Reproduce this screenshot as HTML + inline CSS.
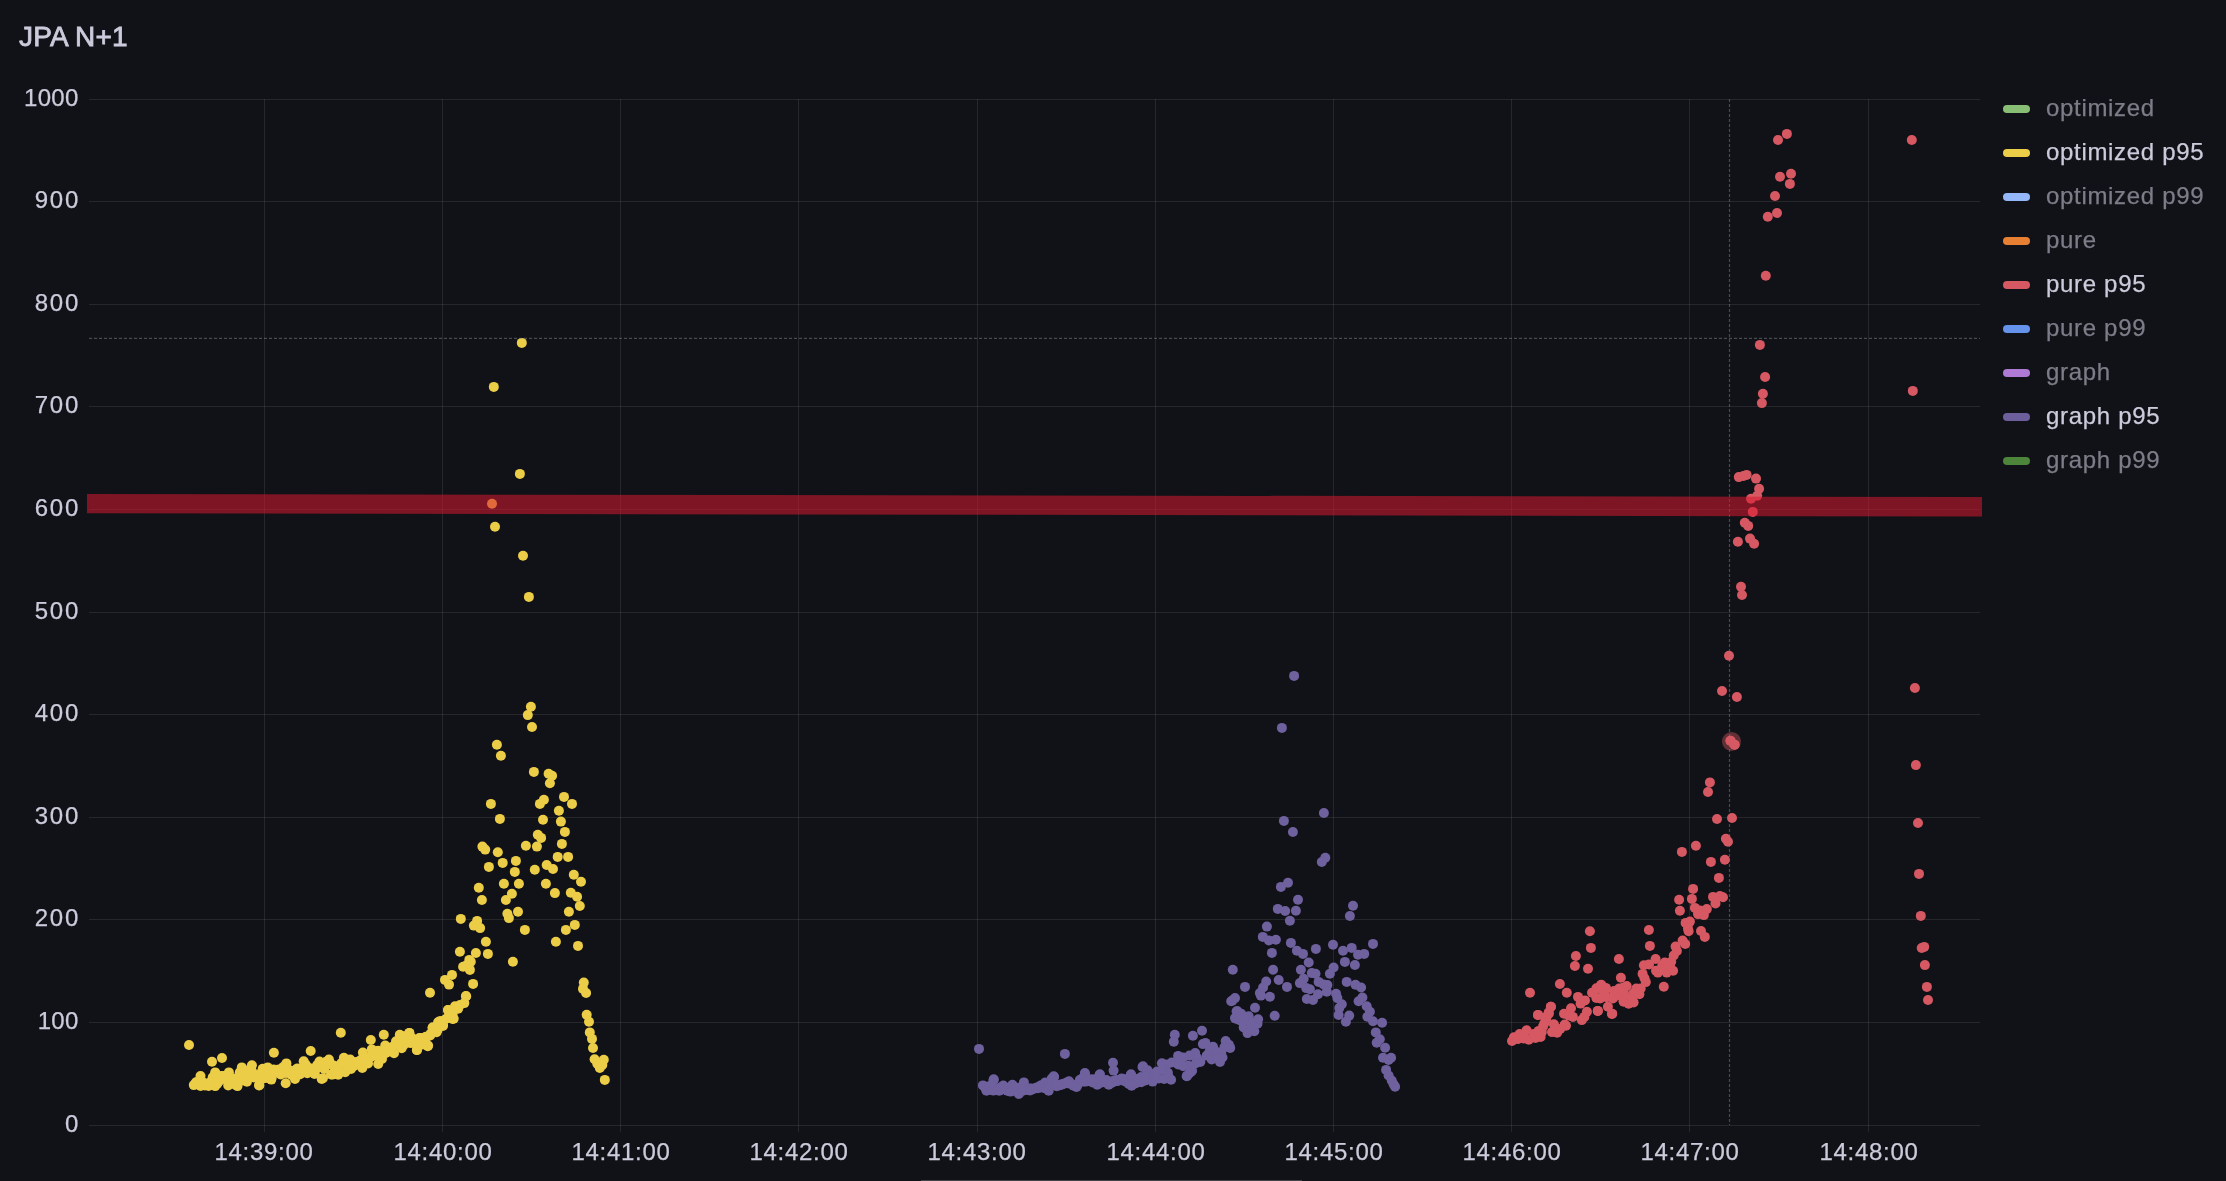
<!DOCTYPE html><html><head><meta charset="utf-8"><title>JPA N+1</title><style>

html,body{margin:0;padding:0;background:#111217;}
body{width:2226px;height:1181px;overflow:hidden;position:relative;font-family:"Liberation Sans",sans-serif;color:#ccccdc;}
.t{position:absolute;white-space:nowrap;line-height:1;opacity:0.999;will-change:transform;}
.title{left:18.5px;top:22.6px;font-size:28px;letter-spacing:0.15px;-webkit-text-stroke:0.8px #ccccdc;}
.yl{font-size:24px;text-align:right;width:78px;left:0;-webkit-text-stroke:0.25px #ccccdc;}
.xl{font-size:24px;text-align:center;width:140px;letter-spacing:0.7px;-webkit-text-stroke:0.25px #ccccdc;}
.lg{font-size:24px;left:2045.5px;letter-spacing:0.68px;-webkit-text-stroke:0.25px currentColor;}
.lg.off{color:#7d7e89;}
.mk{position:absolute;left:2002.9px;width:27.3px;height:8.5px;border-radius:4.25px;}
.sb{position:absolute;left:920.5px;top:1180px;width:381px;height:1px;background:#424349;}

</style></head><body>
<svg width="2226" height="1181" viewBox="0 0 2226 1181" style="position:absolute;left:0;top:0"><g fill="#f0faff" fill-opacity="0.09" shape-rendering="crispEdges"><rect x="89" y="1125" width="1891" height="1"/><rect x="89" y="1022" width="1891" height="1"/><rect x="89" y="919" width="1891" height="1"/><rect x="89" y="817" width="1891" height="1"/><rect x="89" y="714" width="1891" height="1"/><rect x="89" y="612" width="1891" height="1"/><rect x="89" y="509" width="1891" height="1"/><rect x="89" y="406" width="1891" height="1"/><rect x="89" y="304" width="1891" height="1"/><rect x="89" y="201" width="1891" height="1"/><rect x="89" y="99" width="1891" height="1"/><rect x="264" y="99" width="1" height="1033"/><rect x="442" y="99" width="1" height="1033"/><rect x="620" y="99" width="1" height="1033"/><rect x="798" y="99" width="1" height="1033"/><rect x="977" y="99" width="1" height="1033"/><rect x="1155" y="99" width="1" height="1033"/><rect x="1333" y="99" width="1" height="1033"/><rect x="1511" y="99" width="1" height="1033"/><rect x="1689" y="99" width="1" height="1033"/><rect x="1868" y="99" width="1" height="1033"/></g><g fill="#eccd47"><circle cx="189.0" cy="1045.0" r="5"/><circle cx="212.0" cy="1061.8" r="5"/><circle cx="222.0" cy="1058.0" r="5"/><circle cx="273.9" cy="1052.8" r="5"/><circle cx="310.7" cy="1051.0" r="5"/><circle cx="340.8" cy="1032.8" r="5"/><circle cx="370.8" cy="1040.0" r="5"/><circle cx="383.8" cy="1034.7" r="5"/><circle cx="430.0" cy="992.7" r="5"/><circle cx="200.5" cy="1076.0" r="5"/><circle cx="203.0" cy="1083.0" r="5"/><circle cx="209.0" cy="1083.0" r="5"/><circle cx="215.2" cy="1072.4" r="5"/><circle cx="221.7" cy="1076.0" r="5"/><circle cx="228.9" cy="1072.4" r="5"/><circle cx="234.6" cy="1079.0" r="5"/><circle cx="241.8" cy="1067.4" r="5"/><circle cx="251.9" cy="1065.2" r="5"/><circle cx="262.7" cy="1068.8" r="5"/><circle cx="267.7" cy="1067.4" r="5"/><circle cx="273.5" cy="1069.6" r="5"/><circle cx="286.4" cy="1063.4" r="5"/><circle cx="295.0" cy="1070.3" r="5"/><circle cx="303.7" cy="1061.3" r="5"/><circle cx="309.5" cy="1068.8" r="5"/><circle cx="319.5" cy="1061.6" r="5"/><circle cx="328.9" cy="1059.5" r="5"/><circle cx="336.0" cy="1066.7" r="5"/><circle cx="200.5" cy="1086.0" r="5"/><circle cx="215.2" cy="1086.1" r="5"/><circle cx="228.2" cy="1085.4" r="5"/><circle cx="237.5" cy="1086.1" r="5"/><circle cx="246.9" cy="1081.8" r="5"/><circle cx="254.0" cy="1077.5" r="5"/><circle cx="259.1" cy="1085.4" r="5"/><circle cx="271.3" cy="1079.6" r="5"/><circle cx="277.1" cy="1070.0" r="5"/><circle cx="285.7" cy="1083.2" r="5"/><circle cx="295.0" cy="1078.9" r="5"/><circle cx="307.3" cy="1073.2" r="5"/><circle cx="314.5" cy="1073.9" r="5"/><circle cx="321.7" cy="1078.9" r="5"/><circle cx="332.5" cy="1074.6" r="5"/><circle cx="193.8" cy="1085.1" r="5"/><circle cx="196.0" cy="1082.3" r="5"/><circle cx="197.7" cy="1082.1" r="5"/><circle cx="198.9" cy="1082.1" r="5"/><circle cx="200.7" cy="1080.6" r="5"/><circle cx="202.5" cy="1082.1" r="5"/><circle cx="204.8" cy="1085.5" r="5"/><circle cx="206.2" cy="1083.7" r="5"/><circle cx="208.6" cy="1085.9" r="5"/><circle cx="210.4" cy="1082.8" r="5"/><circle cx="212.7" cy="1077.2" r="5"/><circle cx="214.3" cy="1077.4" r="5"/><circle cx="215.3" cy="1074.1" r="5"/><circle cx="217.3" cy="1083.7" r="5"/><circle cx="219.0" cy="1081.1" r="5"/><circle cx="221.3" cy="1079.5" r="5"/><circle cx="223.0" cy="1076.0" r="5"/><circle cx="224.2" cy="1077.0" r="5"/><circle cx="226.8" cy="1078.6" r="5"/><circle cx="228.2" cy="1080.2" r="5"/><circle cx="230.1" cy="1077.4" r="5"/><circle cx="232.4" cy="1082.9" r="5"/><circle cx="233.5" cy="1082.4" r="5"/><circle cx="235.7" cy="1084.9" r="5"/><circle cx="237.7" cy="1077.4" r="5"/><circle cx="239.8" cy="1072.3" r="5"/><circle cx="241.0" cy="1080.7" r="5"/><circle cx="242.5" cy="1075.4" r="5"/><circle cx="244.1" cy="1077.7" r="5"/><circle cx="246.8" cy="1075.2" r="5"/><circle cx="248.8" cy="1070.5" r="5"/><circle cx="250.3" cy="1074.0" r="5"/><circle cx="252.0" cy="1071.4" r="5"/><circle cx="254.1" cy="1077.1" r="5"/><circle cx="255.5" cy="1075.3" r="5"/><circle cx="256.8" cy="1077.4" r="5"/><circle cx="259.3" cy="1085.2" r="5"/><circle cx="261.4" cy="1072.9" r="5"/><circle cx="262.6" cy="1078.8" r="5"/><circle cx="264.0" cy="1075.2" r="5"/><circle cx="266.0" cy="1069.5" r="5"/><circle cx="267.7" cy="1078.1" r="5"/><circle cx="269.6" cy="1071.2" r="5"/><circle cx="271.7" cy="1077.6" r="5"/><circle cx="273.1" cy="1072.6" r="5"/><circle cx="275.5" cy="1072.2" r="5"/><circle cx="277.6" cy="1070.4" r="5"/><circle cx="278.8" cy="1069.4" r="5"/><circle cx="280.7" cy="1074.5" r="5"/><circle cx="283.2" cy="1067.1" r="5"/><circle cx="284.1" cy="1068.3" r="5"/><circle cx="286.0" cy="1073.0" r="5"/><circle cx="288.2" cy="1069.4" r="5"/><circle cx="289.3" cy="1072.4" r="5"/><circle cx="291.6" cy="1074.9" r="5"/><circle cx="294.1" cy="1076.3" r="5"/><circle cx="295.4" cy="1075.3" r="5"/><circle cx="297.4" cy="1068.4" r="5"/><circle cx="299.5" cy="1074.4" r="5"/><circle cx="301.2" cy="1073.5" r="5"/><circle cx="302.5" cy="1067.7" r="5"/><circle cx="303.9" cy="1069.9" r="5"/><circle cx="305.7" cy="1064.6" r="5"/><circle cx="307.7" cy="1067.6" r="5"/><circle cx="309.7" cy="1068.9" r="5"/><circle cx="311.1" cy="1068.6" r="5"/><circle cx="313.0" cy="1069.0" r="5"/><circle cx="314.7" cy="1072.9" r="5"/><circle cx="317.2" cy="1065.1" r="5"/><circle cx="318.6" cy="1067.3" r="5"/><circle cx="320.5" cy="1063.4" r="5"/><circle cx="322.9" cy="1078.3" r="5"/><circle cx="324.3" cy="1068.9" r="5"/><circle cx="325.6" cy="1062.0" r="5"/><circle cx="327.8" cy="1064.2" r="5"/><circle cx="330.2" cy="1063.2" r="5"/><circle cx="331.0" cy="1074.5" r="5"/><circle cx="333.4" cy="1065.6" r="5"/><circle cx="335.2" cy="1066.2" r="5"/><circle cx="337.0" cy="1073.9" r="5"/><circle cx="343.9" cy="1057.7" r="5"/><circle cx="350.2" cy="1059.6" r="5"/><circle cx="356.0" cy="1062.1" r="5"/><circle cx="362.9" cy="1052.6" r="5"/><circle cx="371.8" cy="1049.4" r="5"/><circle cx="378.2" cy="1050.7" r="5"/><circle cx="385.2" cy="1045.6" r="5"/><circle cx="396.0" cy="1041.2" r="5"/><circle cx="399.8" cy="1034.8" r="5"/><circle cx="409.3" cy="1032.9" r="5"/><circle cx="404.8" cy="1038.7" r="5"/><circle cx="419.4" cy="1038.0" r="5"/><circle cx="425.8" cy="1036.7" r="5"/><circle cx="432.8" cy="1027.2" r="5"/><circle cx="439.1" cy="1021.5" r="5"/><circle cx="448.0" cy="1010.1" r="5"/><circle cx="452.5" cy="1014.5" r="5"/><circle cx="338.2" cy="1074.8" r="5"/><circle cx="345.2" cy="1072.3" r="5"/><circle cx="338.8" cy="1069.1" r="5"/><circle cx="354.0" cy="1066.0" r="5"/><circle cx="362.3" cy="1067.9" r="5"/><circle cx="368.0" cy="1063.4" r="5"/><circle cx="378.2" cy="1064.0" r="5"/><circle cx="382.0" cy="1059.0" r="5"/><circle cx="394.0" cy="1053.3" r="5"/><circle cx="401.7" cy="1048.2" r="5"/><circle cx="416.9" cy="1050.1" r="5"/><circle cx="427.7" cy="1046.3" r="5"/><circle cx="422.6" cy="1044.4" r="5"/><circle cx="410.6" cy="1043.1" r="5"/><circle cx="436.6" cy="1032.3" r="5"/><circle cx="442.9" cy="1026.0" r="5"/><circle cx="452.5" cy="1019.0" r="5"/><circle cx="347.7" cy="1065.3" r="5"/><circle cx="360.4" cy="1060.2" r="5"/><circle cx="370.6" cy="1057.1" r="5"/><circle cx="375.6" cy="1055.8" r="5"/><circle cx="379.4" cy="1055.2" r="5"/><circle cx="389.0" cy="1050.7" r="5"/><circle cx="398.5" cy="1044.4" r="5"/><circle cx="404.8" cy="1043.1" r="5"/><circle cx="414.4" cy="1041.2" r="5"/><circle cx="423.9" cy="1040.6" r="5"/><circle cx="430.2" cy="1035.5" r="5"/><circle cx="341.5" cy="1063.0" r="5"/><circle cx="351.0" cy="1069.0" r="5"/><circle cx="365.5" cy="1058.0" r="5"/><circle cx="386.0" cy="1053.0" r="5"/><circle cx="392.0" cy="1047.0" r="5"/><circle cx="403.7" cy="1036.2" r="5"/><circle cx="403.7" cy="1044.9" r="5"/><circle cx="409.4" cy="1033.1" r="5"/><circle cx="407.5" cy="1041.2" r="5"/><circle cx="416.9" cy="1049.9" r="5"/><circle cx="416.2" cy="1042.4" r="5"/><circle cx="421.2" cy="1038.1" r="5"/><circle cx="428.1" cy="1045.6" r="5"/><circle cx="426.2" cy="1037.4" r="5"/><circle cx="432.5" cy="1028.1" r="5"/><circle cx="430.6" cy="1033.7" r="5"/><circle cx="437.5" cy="1029.9" r="5"/><circle cx="438.1" cy="1022.4" r="5"/><circle cx="443.1" cy="1024.9" r="5"/><circle cx="446.2" cy="1018.7" r="5"/><circle cx="448.1" cy="1010.0" r="5"/><circle cx="453.7" cy="1018.7" r="5"/><circle cx="452.5" cy="1012.5" r="5"/><circle cx="455.0" cy="1006.2" r="5"/><circle cx="458.1" cy="1008.7" r="5"/><circle cx="464.3" cy="1003.1" r="5"/><circle cx="466.2" cy="996.2" r="5"/><circle cx="412.0" cy="1038.0" r="5"/><circle cx="423.0" cy="1043.0" r="5"/><circle cx="434.0" cy="1031.0" r="5"/><circle cx="441.0" cy="1021.0" r="5"/><circle cx="450.0" cy="1015.0" r="5"/><circle cx="460.0" cy="1005.0" r="5"/><circle cx="497.8" cy="852.2" r="5"/><circle cx="557.7" cy="856.9" r="5"/><circle cx="568.1" cy="856.9" r="5"/><circle cx="515.9" cy="860.9" r="5"/><circle cx="502.7" cy="862.9" r="5"/><circle cx="488.9" cy="866.9" r="5"/><circle cx="546.7" cy="865.0" r="5"/><circle cx="553.0" cy="869.0" r="5"/><circle cx="534.8" cy="869.7" r="5"/><circle cx="514.8" cy="871.9" r="5"/><circle cx="573.8" cy="874.7" r="5"/><circle cx="581.0" cy="881.8" r="5"/><circle cx="503.9" cy="883.7" r="5"/><circle cx="518.9" cy="883.7" r="5"/><circle cx="545.9" cy="883.7" r="5"/><circle cx="478.8" cy="887.8" r="5"/><circle cx="554.9" cy="893.1" r="5"/><circle cx="570.8" cy="892.8" r="5"/><circle cx="577.1" cy="896.8" r="5"/><circle cx="511.9" cy="893.7" r="5"/><circle cx="505.9" cy="900.0" r="5"/><circle cx="481.9" cy="900.0" r="5"/><circle cx="579.8" cy="906.0" r="5"/><circle cx="568.9" cy="911.8" r="5"/><circle cx="518.0" cy="911.8" r="5"/><circle cx="507.4" cy="913.7" r="5"/><circle cx="508.9" cy="918.1" r="5"/><circle cx="460.8" cy="918.9" r="5"/><circle cx="477.1" cy="920.9" r="5"/><circle cx="473.9" cy="925.6" r="5"/><circle cx="480.1" cy="928.1" r="5"/><circle cx="574.8" cy="924.9" r="5"/><circle cx="565.9" cy="929.9" r="5"/><circle cx="524.9" cy="929.9" r="5"/><circle cx="485.9" cy="941.8" r="5"/><circle cx="555.9" cy="941.8" r="5"/><circle cx="578.0" cy="945.9" r="5"/><circle cx="459.9" cy="951.8" r="5"/><circle cx="475.9" cy="953.0" r="5"/><circle cx="487.9" cy="953.9" r="5"/><circle cx="512.9" cy="961.8" r="5"/><circle cx="469.3" cy="959.9" r="5"/><circle cx="470.8" cy="961.8" r="5"/><circle cx="463.1" cy="966.8" r="5"/><circle cx="466.2" cy="965.5" r="5"/><circle cx="469.9" cy="969.9" r="5"/><circle cx="452.0" cy="974.9" r="5"/><circle cx="445.0" cy="979.9" r="5"/><circle cx="449.0" cy="984.6" r="5"/><circle cx="473.1" cy="983.9" r="5"/><circle cx="465.9" cy="996.1" r="5"/><circle cx="583.8" cy="982.6" r="5"/><circle cx="583.0" cy="988.9" r="5"/><circle cx="586.1" cy="993.0" r="5"/><circle cx="530.9" cy="706.7" r="5"/><circle cx="527.8" cy="715.1" r="5"/><circle cx="532.0" cy="727.0" r="5"/><circle cx="496.9" cy="744.8" r="5"/><circle cx="500.9" cy="755.8" r="5"/><circle cx="533.9" cy="771.9" r="5"/><circle cx="548.6" cy="773.8" r="5"/><circle cx="552.1" cy="775.7" r="5"/><circle cx="549.9" cy="783.2" r="5"/><circle cx="564.0" cy="796.9" r="5"/><circle cx="572.0" cy="803.9" r="5"/><circle cx="543.9" cy="799.8" r="5"/><circle cx="539.9" cy="803.9" r="5"/><circle cx="490.9" cy="803.9" r="5"/><circle cx="558.9" cy="810.8" r="5"/><circle cx="499.9" cy="818.9" r="5"/><circle cx="543.0" cy="819.8" r="5"/><circle cx="560.9" cy="821.6" r="5"/><circle cx="564.9" cy="831.9" r="5"/><circle cx="537.8" cy="834.8" r="5"/><circle cx="541.1" cy="837.9" r="5"/><circle cx="561.9" cy="843.9" r="5"/><circle cx="525.9" cy="845.8" r="5"/><circle cx="536.9" cy="846.6" r="5"/><circle cx="482.4" cy="846.6" r="5"/><circle cx="485.2" cy="849.6" r="5"/><circle cx="521.8" cy="342.9" r="5"/><circle cx="493.8" cy="386.9" r="5"/><circle cx="519.9" cy="473.9" r="5"/><circle cx="492.0" cy="503.7" r="5"/><circle cx="495.0" cy="526.8" r="5"/><circle cx="523.0" cy="555.7" r="5"/><circle cx="528.9" cy="596.9" r="5"/><circle cx="586.7" cy="1014.7" r="5"/><circle cx="589.0" cy="1021.8" r="5"/><circle cx="589.8" cy="1032.4" r="5"/><circle cx="592.0" cy="1038.9" r="5"/><circle cx="593.0" cy="1048.0" r="5"/><circle cx="594.6" cy="1059.3" r="5"/><circle cx="603.8" cy="1059.7" r="5"/><circle cx="597.3" cy="1063.7" r="5"/><circle cx="602.3" cy="1064.9" r="5"/><circle cx="599.8" cy="1068.0" r="5"/><circle cx="604.8" cy="1079.9" r="5"/></g><g fill="#6f609e"><circle cx="979.0" cy="1048.9" r="5"/><circle cx="1064.9" cy="1053.9" r="5"/><circle cx="1113.0" cy="1062.7" r="5"/><circle cx="1113.6" cy="1070.6" r="5"/><circle cx="1174.8" cy="1034.7" r="5"/><circle cx="1173.8" cy="1041.8" r="5"/><circle cx="1192.9" cy="1035.8" r="5"/><circle cx="1202.0" cy="1030.8" r="5"/><circle cx="1232.3" cy="1000.6" r="5"/><circle cx="1236.6" cy="1011.2" r="5"/><circle cx="1236.0" cy="1018.7" r="5"/><circle cx="993.7" cy="1079.3" r="5"/><circle cx="1053.7" cy="1076.2" r="5"/><circle cx="1084.9" cy="1073.0" r="5"/><circle cx="1099.9" cy="1074.3" r="5"/><circle cx="1143.0" cy="1066.2" r="5"/><circle cx="1131.0" cy="1074.3" r="5"/><circle cx="1186.7" cy="1076.2" r="5"/><circle cx="1191.0" cy="1071.8" r="5"/><circle cx="987.0" cy="1088.0" r="5"/><circle cx="993.7" cy="1080.1" r="5"/><circle cx="997.9" cy="1089.0" r="5"/><circle cx="1003.3" cy="1085.5" r="5"/><circle cx="1012.4" cy="1084.7" r="5"/><circle cx="1017.8" cy="1087.7" r="5"/><circle cx="1023.9" cy="1082.4" r="5"/><circle cx="1031.5" cy="1088.5" r="5"/><circle cx="1036.9" cy="1087.4" r="5"/><circle cx="1045.3" cy="1082.4" r="5"/><circle cx="1054.1" cy="1077.1" r="5"/><circle cx="1061.3" cy="1084.7" r="5"/><circle cx="1069.0" cy="1081.3" r="5"/><circle cx="1075.1" cy="1085.5" r="5"/><circle cx="1085.0" cy="1074.0" r="5"/><circle cx="1091.9" cy="1079.3" r="5"/><circle cx="1099.5" cy="1075.1" r="5"/><circle cx="1106.4" cy="1080.1" r="5"/><circle cx="1112.9" cy="1080.9" r="5"/><circle cx="1121.7" cy="1078.6" r="5"/><circle cx="1130.8" cy="1075.1" r="5"/><circle cx="1137.0" cy="1079.0" r="5"/><circle cx="986.5" cy="1090.8" r="5"/><circle cx="999.4" cy="1090.8" r="5"/><circle cx="1007.1" cy="1090.8" r="5"/><circle cx="1018.9" cy="1093.9" r="5"/><circle cx="1030.0" cy="1090.4" r="5"/><circle cx="1039.9" cy="1087.7" r="5"/><circle cx="1048.7" cy="1090.8" r="5"/><circle cx="1059.0" cy="1085.5" r="5"/><circle cx="1066.7" cy="1082.8" r="5"/><circle cx="1076.6" cy="1087.0" r="5"/><circle cx="1085.8" cy="1081.6" r="5"/><circle cx="1097.2" cy="1084.7" r="5"/><circle cx="1108.7" cy="1084.7" r="5"/><circle cx="1116.3" cy="1080.5" r="5"/><circle cx="1131.6" cy="1085.8" r="5"/><circle cx="982.9" cy="1085.4" r="5"/><circle cx="984.3" cy="1086.5" r="5"/><circle cx="986.3" cy="1089.9" r="5"/><circle cx="988.9" cy="1089.7" r="5"/><circle cx="990.8" cy="1085.2" r="5"/><circle cx="993.4" cy="1090.6" r="5"/><circle cx="995.6" cy="1089.5" r="5"/><circle cx="997.7" cy="1090.2" r="5"/><circle cx="999.1" cy="1089.6" r="5"/><circle cx="1001.4" cy="1086.9" r="5"/><circle cx="1003.1" cy="1087.1" r="5"/><circle cx="1005.5" cy="1089.1" r="5"/><circle cx="1008.4" cy="1087.8" r="5"/><circle cx="1010.5" cy="1091.6" r="5"/><circle cx="1012.7" cy="1087.5" r="5"/><circle cx="1013.9" cy="1087.1" r="5"/><circle cx="1016.0" cy="1088.0" r="5"/><circle cx="1018.6" cy="1093.1" r="5"/><circle cx="1021.0" cy="1088.9" r="5"/><circle cx="1022.9" cy="1090.8" r="5"/><circle cx="1024.3" cy="1089.0" r="5"/><circle cx="1027.4" cy="1089.9" r="5"/><circle cx="1029.3" cy="1088.6" r="5"/><circle cx="1030.8" cy="1089.7" r="5"/><circle cx="1033.1" cy="1089.3" r="5"/><circle cx="1035.9" cy="1088.1" r="5"/><circle cx="1037.4" cy="1088.3" r="5"/><circle cx="1039.9" cy="1086.0" r="5"/><circle cx="1041.3" cy="1085.3" r="5"/><circle cx="1044.3" cy="1088.0" r="5"/><circle cx="1045.5" cy="1088.4" r="5"/><circle cx="1048.6" cy="1087.2" r="5"/><circle cx="1050.0" cy="1085.4" r="5"/><circle cx="1051.8" cy="1078.6" r="5"/><circle cx="1055.0" cy="1084.2" r="5"/><circle cx="1056.6" cy="1086.3" r="5"/><circle cx="1058.6" cy="1085.2" r="5"/><circle cx="1061.1" cy="1084.6" r="5"/><circle cx="1062.6" cy="1084.2" r="5"/><circle cx="1064.7" cy="1083.4" r="5"/><circle cx="1066.8" cy="1082.5" r="5"/><circle cx="1068.8" cy="1083.5" r="5"/><circle cx="1071.1" cy="1083.7" r="5"/><circle cx="1073.5" cy="1085.6" r="5"/><circle cx="1075.5" cy="1086.4" r="5"/><circle cx="1077.7" cy="1084.6" r="5"/><circle cx="1079.8" cy="1080.1" r="5"/><circle cx="1081.8" cy="1078.8" r="5"/><circle cx="1083.4" cy="1081.6" r="5"/><circle cx="1085.7" cy="1077.9" r="5"/><circle cx="1088.5" cy="1079.8" r="5"/><circle cx="1090.1" cy="1080.5" r="5"/><circle cx="1092.5" cy="1082.5" r="5"/><circle cx="1094.1" cy="1081.3" r="5"/><circle cx="1096.4" cy="1078.9" r="5"/><circle cx="1099.1" cy="1080.1" r="5"/><circle cx="1101.0" cy="1082.7" r="5"/><circle cx="1103.5" cy="1081.0" r="5"/><circle cx="1105.3" cy="1082.0" r="5"/><circle cx="1107.3" cy="1083.3" r="5"/><circle cx="1109.3" cy="1082.5" r="5"/><circle cx="1111.5" cy="1083.0" r="5"/><circle cx="1113.9" cy="1081.7" r="5"/><circle cx="1116.3" cy="1080.1" r="5"/><circle cx="1117.9" cy="1081.0" r="5"/><circle cx="1120.4" cy="1079.4" r="5"/><circle cx="1121.6" cy="1080.3" r="5"/><circle cx="1123.7" cy="1079.1" r="5"/><circle cx="1125.8" cy="1081.6" r="5"/><circle cx="1128.8" cy="1083.9" r="5"/><circle cx="1130.1" cy="1082.5" r="5"/><circle cx="1132.8" cy="1077.6" r="5"/><circle cx="1135.2" cy="1083.5" r="5"/><circle cx="1136.5" cy="1082.8" r="5"/><circle cx="1138.9" cy="1078.7" r="5"/><circle cx="1225.7" cy="1041.0" r="5"/><circle cx="1228.9" cy="1044.8" r="5"/><circle cx="1230.2" cy="1047.9" r="5"/><circle cx="1224.4" cy="1047.3" r="5"/><circle cx="1205.4" cy="1042.9" r="5"/><circle cx="1202.9" cy="1044.1" r="5"/><circle cx="1213.0" cy="1046.7" r="5"/><circle cx="1209.8" cy="1050.5" r="5"/><circle cx="1216.2" cy="1051.7" r="5"/><circle cx="1221.3" cy="1053.0" r="5"/><circle cx="1206.7" cy="1055.6" r="5"/><circle cx="1211.7" cy="1059.4" r="5"/><circle cx="1220.0" cy="1061.9" r="5"/><circle cx="1217.5" cy="1058.1" r="5"/><circle cx="1222.5" cy="1057.5" r="5"/><circle cx="1161.9" cy="1063.2" r="5"/><circle cx="1178.1" cy="1055.9" r="5"/><circle cx="1195.2" cy="1053.0" r="5"/><circle cx="1189.5" cy="1055.6" r="5"/><circle cx="1183.2" cy="1057.5" r="5"/><circle cx="1171.7" cy="1062.5" r="5"/><circle cx="1166.7" cy="1064.4" r="5"/><circle cx="1178.1" cy="1064.4" r="5"/><circle cx="1197.1" cy="1058.1" r="5"/><circle cx="1200.3" cy="1061.9" r="5"/><circle cx="1195.9" cy="1063.2" r="5"/><circle cx="1188.3" cy="1065.7" r="5"/><circle cx="1183.2" cy="1066.3" r="5"/><circle cx="1192.1" cy="1070.8" r="5"/><circle cx="1187.0" cy="1075.9" r="5"/><circle cx="1189.5" cy="1073.3" r="5"/><circle cx="1142.5" cy="1067.0" r="5"/><circle cx="1147.6" cy="1070.2" r="5"/><circle cx="1154.0" cy="1074.0" r="5"/><circle cx="1141.3" cy="1077.1" r="5"/><circle cx="1146.3" cy="1075.9" r="5"/><circle cx="1152.7" cy="1081.6" r="5"/><circle cx="1159.0" cy="1078.4" r="5"/><circle cx="1167.9" cy="1072.7" r="5"/><circle cx="1168.6" cy="1077.1" r="5"/><circle cx="1171.1" cy="1079.7" r="5"/><circle cx="1164.1" cy="1079.0" r="5"/><circle cx="1141.3" cy="1082.2" r="5"/><circle cx="1145.5" cy="1080.5" r="5"/><circle cx="1157.0" cy="1071.5" r="5"/><circle cx="1163.0" cy="1069.5" r="5"/><circle cx="1237.5" cy="1011.2" r="5"/><circle cx="1241.2" cy="1013.7" r="5"/><circle cx="1235.0" cy="1018.1" r="5"/><circle cx="1239.3" cy="1019.9" r="5"/><circle cx="1243.1" cy="1022.4" r="5"/><circle cx="1248.7" cy="1016.2" r="5"/><circle cx="1246.8" cy="1024.9" r="5"/><circle cx="1243.7" cy="1027.4" r="5"/><circle cx="1250.0" cy="1028.1" r="5"/><circle cx="1247.5" cy="1033.1" r="5"/><circle cx="1254.3" cy="1031.2" r="5"/><circle cx="1257.5" cy="1023.7" r="5"/><circle cx="1258.1" cy="1019.3" r="5"/><circle cx="1255.0" cy="1007.7" r="5"/><circle cx="1245.0" cy="1018.0" r="5"/><circle cx="1251.0" cy="1022.0" r="5"/><circle cx="1232.8" cy="969.7" r="5"/><circle cx="1245.0" cy="986.9" r="5"/><circle cx="1235.0" cy="998.1" r="5"/><circle cx="1231.2" cy="1001.2" r="5"/><circle cx="1274.7" cy="1015.8" r="5"/><circle cx="1273.1" cy="969.7" r="5"/><circle cx="1278.7" cy="980.0" r="5"/><circle cx="1287.0" cy="986.9" r="5"/><circle cx="1266.2" cy="981.5" r="5"/><circle cx="1263.1" cy="987.5" r="5"/><circle cx="1259.9" cy="993.1" r="5"/><circle cx="1260.9" cy="995.6" r="5"/><circle cx="1269.9" cy="996.8" r="5"/><circle cx="1300.9" cy="969.7" r="5"/><circle cx="1308.7" cy="962.5" r="5"/><circle cx="1311.8" cy="973.1" r="5"/><circle cx="1315.5" cy="973.7" r="5"/><circle cx="1303.7" cy="978.7" r="5"/><circle cx="1299.9" cy="983.1" r="5"/><circle cx="1306.2" cy="988.1" r="5"/><circle cx="1309.9" cy="989.3" r="5"/><circle cx="1318.6" cy="981.9" r="5"/><circle cx="1323.6" cy="984.4" r="5"/><circle cx="1327.4" cy="985.0" r="5"/><circle cx="1326.8" cy="991.8" r="5"/><circle cx="1318.0" cy="994.3" r="5"/><circle cx="1306.8" cy="999.0" r="5"/><circle cx="1313.0" cy="1000.0" r="5"/><circle cx="1333.6" cy="967.5" r="5"/><circle cx="1329.9" cy="973.7" r="5"/><circle cx="1344.9" cy="961.9" r="5"/><circle cx="1354.9" cy="965.0" r="5"/><circle cx="1346.7" cy="981.9" r="5"/><circle cx="1355.5" cy="984.7" r="5"/><circle cx="1361.1" cy="987.5" r="5"/><circle cx="1336.1" cy="993.7" r="5"/><circle cx="1337.4" cy="998.1" r="5"/><circle cx="1341.8" cy="1004.3" r="5"/><circle cx="1339.3" cy="1008.1" r="5"/><circle cx="1338.6" cy="1015.0" r="5"/><circle cx="1349.2" cy="1015.6" r="5"/><circle cx="1345.9" cy="1021.8" r="5"/><circle cx="1362.4" cy="997.5" r="5"/><circle cx="1358.6" cy="1001.2" r="5"/><circle cx="1366.7" cy="1006.2" r="5"/><circle cx="1369.9" cy="1011.8" r="5"/><circle cx="1367.4" cy="1016.8" r="5"/><circle cx="1373.0" cy="1021.2" r="5"/><circle cx="1382.1" cy="1022.8" r="5"/><circle cx="1375.8" cy="1032.4" r="5"/><circle cx="1379.8" cy="1039.3" r="5"/><circle cx="1376.7" cy="1042.7" r="5"/><circle cx="1385.1" cy="1047.8" r="5"/><circle cx="1383.0" cy="1057.8" r="5"/><circle cx="1391.1" cy="1057.8" r="5"/><circle cx="1388.6" cy="1059.9" r="5"/><circle cx="1386.1" cy="1069.9" r="5"/><circle cx="1388.6" cy="1075.5" r="5"/><circle cx="1391.7" cy="1080.5" r="5"/><circle cx="1393.6" cy="1084.3" r="5"/><circle cx="1395.1" cy="1086.8" r="5"/><circle cx="1323.9" cy="813.0" r="5"/><circle cx="1283.9" cy="820.9" r="5"/><circle cx="1292.9" cy="832.0" r="5"/><circle cx="1325.3" cy="857.7" r="5"/><circle cx="1321.8" cy="862.0" r="5"/><circle cx="1288.0" cy="882.7" r="5"/><circle cx="1280.9" cy="886.9" r="5"/><circle cx="1298.0" cy="899.8" r="5"/><circle cx="1353.0" cy="905.8" r="5"/><circle cx="1277.8" cy="908.9" r="5"/><circle cx="1285.2" cy="911.0" r="5"/><circle cx="1295.9" cy="910.8" r="5"/><circle cx="1349.9" cy="916.0" r="5"/><circle cx="1289.9" cy="920.8" r="5"/><circle cx="1266.9" cy="926.6" r="5"/><circle cx="1262.8" cy="936.9" r="5"/><circle cx="1268.9" cy="940.4" r="5"/><circle cx="1275.9" cy="939.8" r="5"/><circle cx="1290.9" cy="942.9" r="5"/><circle cx="1333.0" cy="944.8" r="5"/><circle cx="1373.0" cy="943.9" r="5"/><circle cx="1315.9" cy="948.9" r="5"/><circle cx="1351.7" cy="947.9" r="5"/><circle cx="1343.0" cy="950.8" r="5"/><circle cx="1296.9" cy="950.8" r="5"/><circle cx="1303.0" cy="953.9" r="5"/><circle cx="1271.9" cy="952.9" r="5"/><circle cx="1358.0" cy="954.7" r="5"/><circle cx="1364.2" cy="953.9" r="5"/><circle cx="1294.1" cy="675.9" r="5"/><circle cx="1281.9" cy="727.9" r="5"/></g><g fill="#d65862"><circle cx="1530.0" cy="992.8" r="5"/><circle cx="1559.9" cy="984.0" r="5"/><circle cx="1566.8" cy="992.8" r="5"/><circle cx="1574.9" cy="966.0" r="5"/><circle cx="1575.9" cy="956.0" r="5"/><circle cx="1588.0" cy="968.7" r="5"/><circle cx="1590.9" cy="947.9" r="5"/><circle cx="1589.9" cy="931.2" r="5"/><circle cx="1618.9" cy="959.0" r="5"/><circle cx="1620.9" cy="977.7" r="5"/><circle cx="1648.9" cy="930.0" r="5"/><circle cx="1649.9" cy="945.9" r="5"/><circle cx="1663.8" cy="986.8" r="5"/><circle cx="1688.6" cy="931.2" r="5"/><circle cx="1704.8" cy="936.9" r="5"/><circle cx="1701.0" cy="931.0" r="5"/><circle cx="1597.9" cy="1010.9" r="5"/><circle cx="1611.9" cy="1013.9" r="5"/><circle cx="1538.0" cy="1014.9" r="5"/><circle cx="1550.8" cy="1006.8" r="5"/><circle cx="1545.0" cy="1017.4" r="5"/><circle cx="1548.7" cy="1012.4" r="5"/><circle cx="1512.0" cy="1041.0" r="5"/><circle cx="1513.9" cy="1037.2" r="5"/><circle cx="1519.6" cy="1034.0" r="5"/><circle cx="1526.6" cy="1030.2" r="5"/><circle cx="1517.7" cy="1039.1" r="5"/><circle cx="1523.4" cy="1038.5" r="5"/><circle cx="1528.8" cy="1039.8" r="5"/><circle cx="1533.6" cy="1034.0" r="5"/><circle cx="1535.5" cy="1037.9" r="5"/><circle cx="1540.6" cy="1036.9" r="5"/><circle cx="1538.7" cy="1030.9" r="5"/><circle cx="1541.8" cy="1032.1" r="5"/><circle cx="1543.1" cy="1026.4" r="5"/><circle cx="1538.0" cy="1015.0" r="5"/><circle cx="1551.0" cy="1006.7" r="5"/><circle cx="1548.8" cy="1013.7" r="5"/><circle cx="1546.3" cy="1018.8" r="5"/><circle cx="1544.4" cy="1023.3" r="5"/><circle cx="1553.9" cy="1024.2" r="5"/><circle cx="1552.0" cy="1032.1" r="5"/><circle cx="1557.1" cy="1032.8" r="5"/><circle cx="1560.2" cy="1029.0" r="5"/><circle cx="1566.0" cy="1025.8" r="5"/><circle cx="1564.7" cy="1024.5" r="5"/><circle cx="1555.8" cy="1028.3" r="5"/><circle cx="1578.0" cy="996.9" r="5"/><circle cx="1585.0" cy="1000.4" r="5"/><circle cx="1580.6" cy="1003.6" r="5"/><circle cx="1571.0" cy="1008.3" r="5"/><circle cx="1564.0" cy="1013.7" r="5"/><circle cx="1569.1" cy="1015.6" r="5"/><circle cx="1572.9" cy="1016.9" r="5"/><circle cx="1586.9" cy="1011.8" r="5"/><circle cx="1584.4" cy="1016.9" r="5"/><circle cx="1581.8" cy="1020.1" r="5"/><circle cx="1600.9" cy="985.2" r="5"/><circle cx="1596.4" cy="988.3" r="5"/><circle cx="1606.0" cy="989.0" r="5"/><circle cx="1592.0" cy="992.8" r="5"/><circle cx="1600.2" cy="998.5" r="5"/><circle cx="1606.6" cy="997.2" r="5"/><circle cx="1615.5" cy="991.5" r="5"/><circle cx="1612.9" cy="998.5" r="5"/><circle cx="1607.9" cy="1006.7" r="5"/><circle cx="1612.3" cy="1013.7" r="5"/><circle cx="1623.1" cy="987.7" r="5"/><circle cx="1623.7" cy="1001.7" r="5"/><circle cx="1619.3" cy="995.3" r="5"/><circle cx="1597.7" cy="1011.0" r="5"/><circle cx="1655.6" cy="959.0" r="5"/><circle cx="1643.9" cy="965.3" r="5"/><circle cx="1649.0" cy="964.4" r="5"/><circle cx="1642.6" cy="973.9" r="5"/><circle cx="1656.0" cy="970.7" r="5"/><circle cx="1657.9" cy="972.6" r="5"/><circle cx="1662.3" cy="965.6" r="5"/><circle cx="1664.8" cy="962.5" r="5"/><circle cx="1666.7" cy="972.6" r="5"/><circle cx="1669.9" cy="965.6" r="5"/><circle cx="1673.1" cy="970.7" r="5"/><circle cx="1671.2" cy="961.8" r="5"/><circle cx="1661.0" cy="969.4" r="5"/><circle cx="1673.7" cy="955.5" r="5"/><circle cx="1676.9" cy="951.0" r="5"/><circle cx="1675.6" cy="946.6" r="5"/><circle cx="1682.6" cy="940.6" r="5"/><circle cx="1685.2" cy="944.0" r="5"/><circle cx="1645.8" cy="982.1" r="5"/><circle cx="1644.5" cy="978.3" r="5"/><circle cx="1640.7" cy="988.5" r="5"/><circle cx="1636.3" cy="988.5" r="5"/><circle cx="1626.7" cy="986.0" r="5"/><circle cx="1633.1" cy="993.6" r="5"/><circle cx="1639.4" cy="994.2" r="5"/><circle cx="1630.6" cy="998.0" r="5"/><circle cx="1601.3" cy="984.7" r="5"/><circle cx="1605.8" cy="987.9" r="5"/><circle cx="1597.5" cy="988.5" r="5"/><circle cx="1614.0" cy="991.0" r="5"/><circle cx="1619.1" cy="988.5" r="5"/><circle cx="1603.3" cy="995.5" r="5"/><circle cx="1614.0" cy="996.7" r="5"/><circle cx="1623.6" cy="992.3" r="5"/><circle cx="1596.3" cy="998.0" r="5"/><circle cx="1625.5" cy="999.3" r="5"/><circle cx="1623.6" cy="1001.2" r="5"/><circle cx="1628.6" cy="1003.7" r="5"/><circle cx="1633.6" cy="1002.4" r="5"/><circle cx="1632.4" cy="997.4" r="5"/><circle cx="1636.1" cy="992.4" r="5"/><circle cx="1709.9" cy="782.4" r="5"/><circle cx="1708.0" cy="792.0" r="5"/><circle cx="1717.0" cy="819.0" r="5"/><circle cx="1732.0" cy="818.0" r="5"/><circle cx="1725.9" cy="838.8" r="5"/><circle cx="1728.0" cy="841.7" r="5"/><circle cx="1695.9" cy="845.8" r="5"/><circle cx="1681.9" cy="851.9" r="5"/><circle cx="1710.9" cy="861.9" r="5"/><circle cx="1724.9" cy="859.8" r="5"/><circle cx="1718.9" cy="877.9" r="5"/><circle cx="1693.1" cy="888.9" r="5"/><circle cx="1679.1" cy="899.8" r="5"/><circle cx="1691.9" cy="898.9" r="5"/><circle cx="1713.0" cy="896.9" r="5"/><circle cx="1719.9" cy="896.0" r="5"/><circle cx="1723.0" cy="897.3" r="5"/><circle cx="1715.5" cy="903.5" r="5"/><circle cx="1679.9" cy="910.8" r="5"/><circle cx="1694.9" cy="907.9" r="5"/><circle cx="1699.9" cy="910.4" r="5"/><circle cx="1706.8" cy="909.1" r="5"/><circle cx="1698.0" cy="914.1" r="5"/><circle cx="1703.9" cy="915.1" r="5"/><circle cx="1689.9" cy="921.6" r="5"/><circle cx="1685.6" cy="922.9" r="5"/><circle cx="1688.0" cy="928.5" r="5"/><circle cx="1729.0" cy="655.7" r="5"/><circle cx="1722.0" cy="691.0" r="5"/><circle cx="1736.9" cy="697.0" r="5"/><circle cx="1730.5" cy="740.7" r="5"/><circle cx="1734.6" cy="744.7" r="5"/><circle cx="1738.8" cy="477.1" r="5"/><circle cx="1743.5" cy="475.9" r="5"/><circle cx="1746.6" cy="474.9" r="5"/><circle cx="1756.0" cy="478.6" r="5"/><circle cx="1759.1" cy="488.8" r="5"/><circle cx="1757.2" cy="495.8" r="5"/><circle cx="1751.0" cy="498.8" r="5"/><circle cx="1752.8" cy="511.9" r="5"/><circle cx="1744.8" cy="522.8" r="5"/><circle cx="1748.2" cy="525.9" r="5"/><circle cx="1737.9" cy="541.7" r="5"/><circle cx="1750.0" cy="538.6" r="5"/><circle cx="1754.1" cy="543.7" r="5"/><circle cx="1741.0" cy="586.7" r="5"/><circle cx="1742.0" cy="595.0" r="5"/><circle cx="1786.9" cy="133.9" r="5"/><circle cx="1778.0" cy="140.0" r="5"/><circle cx="1791.0" cy="173.7" r="5"/><circle cx="1780.0" cy="176.8" r="5"/><circle cx="1789.9" cy="183.9" r="5"/><circle cx="1775.0" cy="196.0" r="5"/><circle cx="1777.0" cy="213.0" r="5"/><circle cx="1767.8" cy="216.8" r="5"/><circle cx="1765.8" cy="275.8" r="5"/><circle cx="1759.9" cy="344.9" r="5"/><circle cx="1765.1" cy="377.0" r="5"/><circle cx="1762.9" cy="393.8" r="5"/><circle cx="1761.9" cy="403.1" r="5"/><circle cx="1911.8" cy="140.0" r="5"/><circle cx="1912.8" cy="390.9" r="5"/><circle cx="1914.9" cy="688.0" r="5"/><circle cx="1915.9" cy="765.1" r="5"/><circle cx="1918.0" cy="823.0" r="5"/><circle cx="1919.0" cy="873.9" r="5"/><circle cx="1920.8" cy="915.9" r="5"/><circle cx="1921.7" cy="948.0" r="5"/><circle cx="1924.2" cy="946.9" r="5"/><circle cx="1924.9" cy="965.1" r="5"/><circle cx="1926.9" cy="986.9" r="5"/><circle cx="1928.0" cy="1000.0" r="5"/></g><circle cx="1731.5" cy="741.5" r="9.5" fill="#d65862" fill-opacity="0.42"/><circle cx="1730.5" cy="740.7" r="5" fill="#d65862"/><circle cx="1734.6" cy="744.7" r="5" fill="#d65862"/><g stroke="#7f828c" stroke-opacity="0.5" stroke-width="1.2" stroke-dasharray="3 2" fill="none"><path d="M1729.5 99V1125"/><path d="M89 338.3H1980"/></g><polygon points="87,494 1982,497 1982,516.5 87,513.3" fill="#d91730" fill-opacity="0.55"/></svg>
<div class="t title">JPA N+1</div>
<div class="t yl" style="top:1112.1px;letter-spacing:1.75px;width:80.05px">0</div>
<div class="t yl" style="top:1009.1px;letter-spacing:0.30px;width:78.60px">100</div>
<div class="t yl" style="top:906.1px;letter-spacing:1.75px;width:80.05px">200</div>
<div class="t yl" style="top:804.1px;letter-spacing:1.75px;width:80.05px">300</div>
<div class="t yl" style="top:701.1px;letter-spacing:1.75px;width:80.05px">400</div>
<div class="t yl" style="top:599.1px;letter-spacing:1.75px;width:80.05px">500</div>
<div class="t yl" style="top:496.1px;letter-spacing:1.75px;width:80.05px">600</div>
<div class="t yl" style="top:393.1px;letter-spacing:1.75px;width:80.05px">700</div>
<div class="t yl" style="top:291.1px;letter-spacing:1.75px;width:80.05px">800</div>
<div class="t yl" style="top:188.1px;letter-spacing:1.75px;width:80.05px">900</div>
<div class="t yl" style="top:86.1px;letter-spacing:0.30px;width:78.60px">1000</div>
<div class="t xl" style="left:194.4px;top:1140.4px">14:39:00</div>
<div class="t xl" style="left:372.6px;top:1140.4px">14:40:00</div>
<div class="t xl" style="left:550.9px;top:1140.4px">14:41:00</div>
<div class="t xl" style="left:729.1px;top:1140.4px">14:42:00</div>
<div class="t xl" style="left:907.3px;top:1140.4px">14:43:00</div>
<div class="t xl" style="left:1085.5px;top:1140.4px">14:44:00</div>
<div class="t xl" style="left:1263.8px;top:1140.4px">14:45:00</div>
<div class="t xl" style="left:1442.0px;top:1140.4px">14:46:00</div>
<div class="t xl" style="left:1620.2px;top:1140.4px">14:47:00</div>
<div class="t xl" style="left:1798.5px;top:1140.4px">14:48:00</div>
<div class="mk" style="top:104.8px;background:#89bf75"></div>
<div class="t lg off" style="top:96.4px">optimized</div>
<div class="mk" style="top:148.8px;background:#eccd47"></div>
<div class="t lg" style="top:140.4px">optimized p95</div>
<div class="mk" style="top:192.8px;background:#94b7f9"></div>
<div class="t lg off" style="top:184.4px">optimized p99</div>
<div class="mk" style="top:236.8px;background:#e88033"></div>
<div class="t lg off" style="top:228.4px">pure</div>
<div class="mk" style="top:280.8px;background:#d65862"></div>
<div class="t lg" style="top:272.4px">pure p95</div>
<div class="mk" style="top:324.8px;background:#6592eb"></div>
<div class="t lg off" style="top:316.4px">pure p99</div>
<div class="mk" style="top:368.8px;background:#af7ad3"></div>
<div class="t lg off" style="top:360.4px">graph</div>
<div class="mk" style="top:412.8px;background:#6d5e9c"></div>
<div class="t lg" style="top:404.4px">graph p95</div>
<div class="mk" style="top:456.8px;background:#4d853a"></div>
<div class="t lg off" style="top:448.4px">graph p99</div>
<div class="sb"></div>
</body></html>
